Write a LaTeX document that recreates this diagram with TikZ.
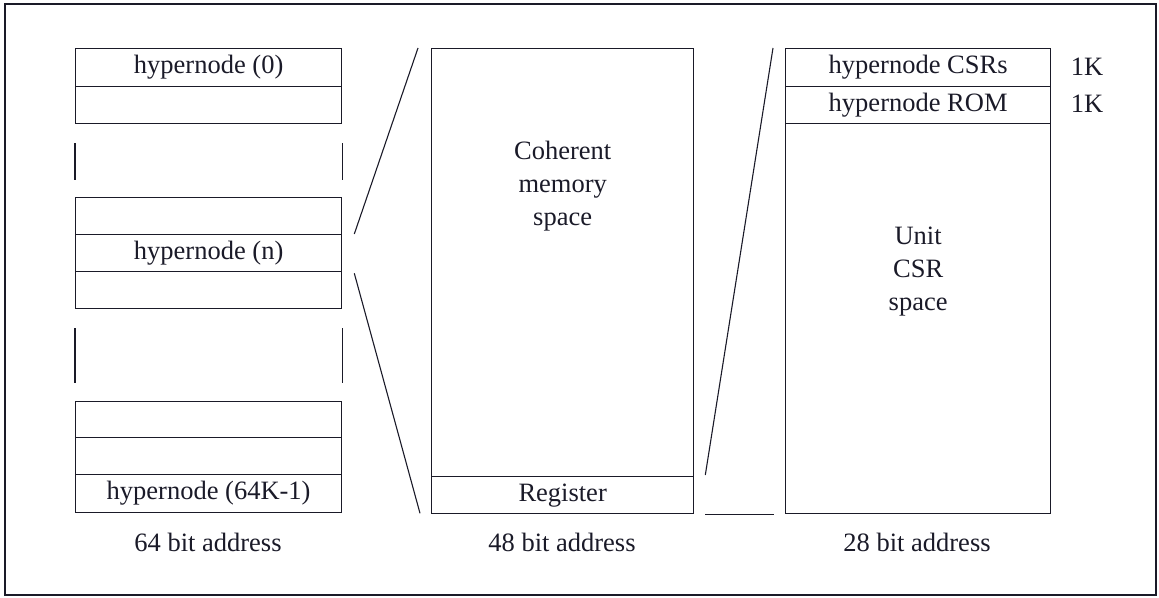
\documentclass[tikz,border=0pt]{standalone}
\usepackage{fontspec}
\setmainfont{Liberation Serif}
\usetikzlibrary{calc}
\definecolor{ink}{RGB}{26,26,40}
\begin{document}
\begin{tikzpicture}[x=1pt,y=-1pt,line width=1.3pt,draw=ink,
  txt/.style={font=\fontsize{26.5}{33}\selectfont,text=ink,inner sep=0pt,align=center},
  cell/.style={txt,draw=ink,anchor=north west,minimum height=#1},
  lcell/.style={cell=#1,minimum width=266},
  mcell/.style={cell=#1,minimum width=262},
  rcell/.style={cell=#1,minimum width=265},
  link/.style={draw=ink,line width=1.1pt}]
\useasboundingbox (0,0) rectangle (1159,597);
% outer frame
\draw[line width=2.4pt] (5,4) rectangle (1156,595);

% 64-bit space: hypernode slots
\node[lcell=38] (h0)  at (75,48)  {hypernode (0)};
\node[lcell=37] (h0b) at (75,86)  {};
\node[lcell=37] (hna) at (75,197) {};
\node[lcell=37] (hn)  at (75,234) {hypernode (n)};
\node[lcell=37] (hnb) at (75,271) {};
\node[lcell=36] (hla) at (75,401) {};
\node[lcell=37] (hlb) at (75,437) {};
\node[lcell=38] (hl)  at (75,474) {hypernode (64K-1)};
\node[txt] (a64) at (208,542) {64 bit address};

% elision bars
\draw (h0b.south west) ++(0,19) coordinate (e1a) -- ++(0,37) coordinate (e1b);
\draw (h0b.south east) ++(0,19) coordinate (e2a) -- ++(0,37) coordinate (e2b);
\draw (hnb.south west) ++(0,19) coordinate (e3a) -- ++(0,55) coordinate (e3b);
\draw (hnb.south east) ++(0,19) coordinate (e4a) -- ++(0,55) coordinate (e4b);

% 48-bit space of one hypernode
\node[mcell=428] (coh) at (431,48) {};
\node[txt,anchor=north] (cohl) at ($(coh.north)+(0,92)$) {Coherent\\memory\\space};
\node[mcell=37] (reg) at (431,476) {Register};
\node[txt] (a48) at (562,542) {48 bit address};

% 28-bit register space
\node[rcell=38] (csr) at (785,48) {hypernode CSRs};
\node[rcell=37] (rom) at (785,86) {hypernode ROM};
\node[rcell=390] (unit) at (785,123) {};
\node[txt,anchor=north] (unitl) at ($(unit.north)+(0,103)$) {Unit\\CSR\\space};
\node[txt] (a28) at (917,542) {28 bit address};
\node[txt] (k1) at (1087,67) {1K};
\node[txt] (k2) at (1087,104) {1K};

% expansion lines
\coordinate (p1) at ($(hn.north east)+(12,0)$);
\coordinate (p2) at ($(coh.north west)+(-13,0)$);
\coordinate (p3) at ($(hn.south east)+(12,1)$);
\coordinate (p4) at ($(reg.south west)+(-11,-1)$);
\draw[link] (p1) -- (p2);
\draw[link] (p3) -- (p4);
\coordinate (q1) at ($(reg.north east)+(11,-1)$);
\coordinate (q2) at ($(csr.north west)+(-12,0)$);
\coordinate (q3) at ($(reg.south east)+(11,0)$);
\coordinate (q4) at ($(unit.south west)+(-11,0)$);
\draw[link] (q1) -- (q2);
\draw[link] (q3) -- (q4);
\end{tikzpicture}
\end{document}
